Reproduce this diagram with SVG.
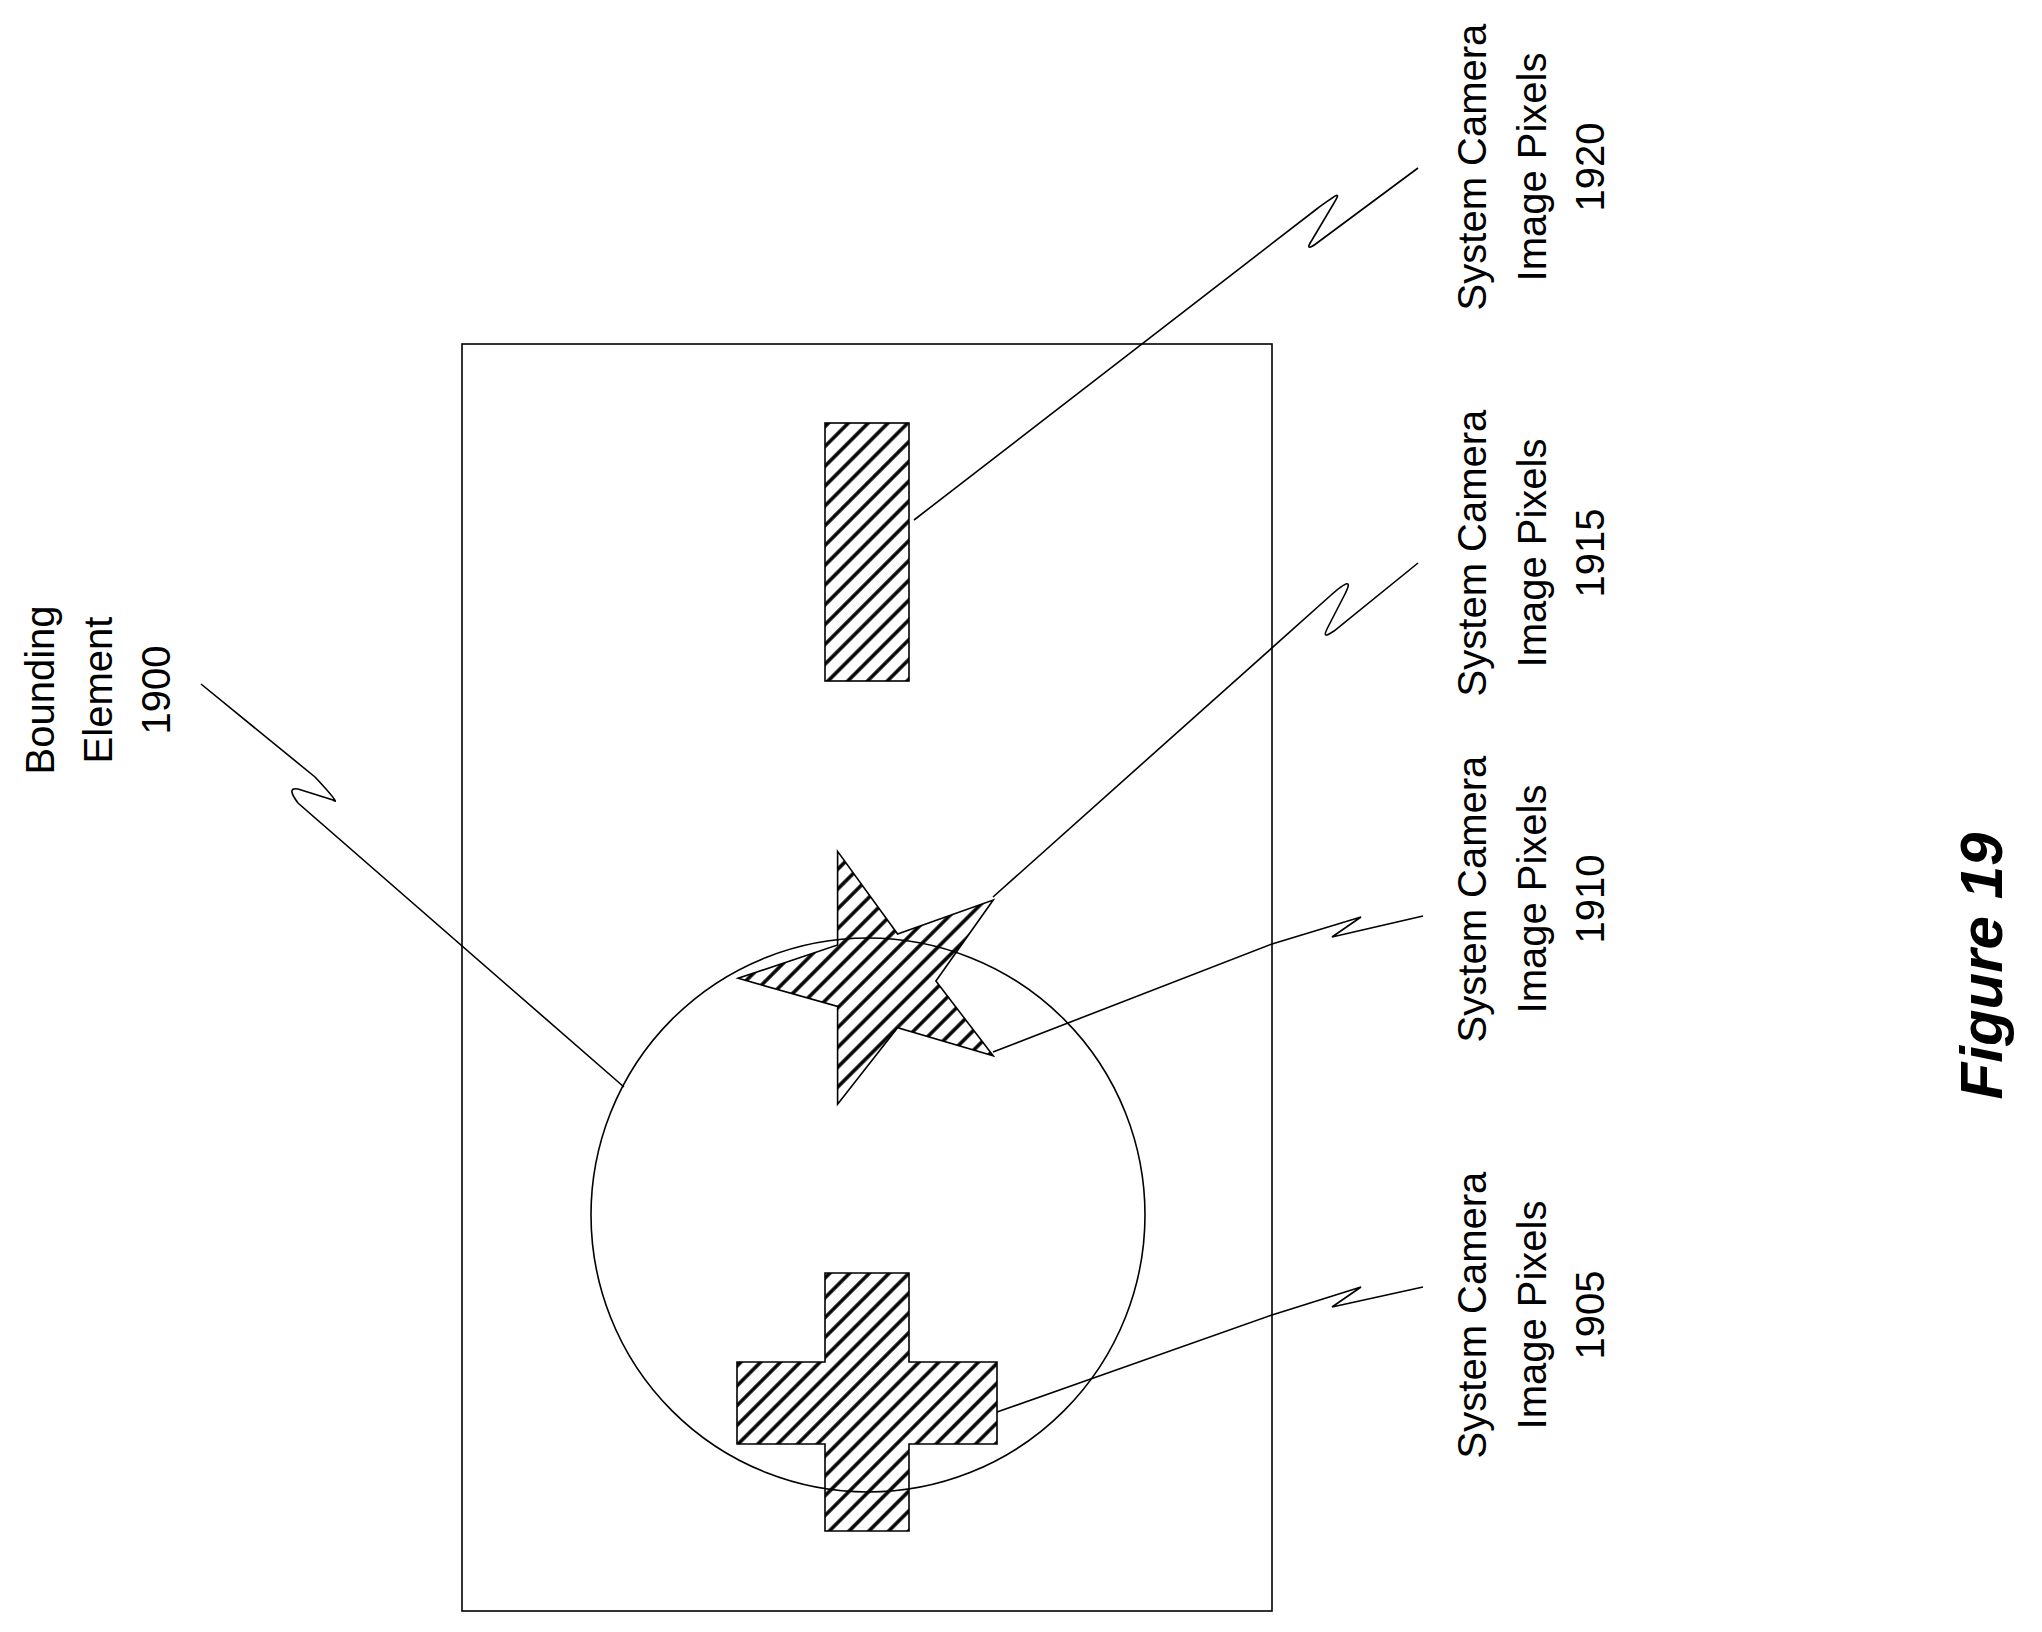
<svg xmlns="http://www.w3.org/2000/svg" width="2042" height="1632" viewBox="0 0 2042 1632">
<style>
.ln{fill:none;stroke:#000;stroke-width:1.6}
.sh{fill:url(#hatch);stroke:#000;stroke-width:1.6}
.lb{font-family:"Liberation Sans",Arial,sans-serif;font-size:40px;fill:#000;text-anchor:middle}
.fg{font-family:"Liberation Sans",Arial,sans-serif;font-size:60px;font-weight:bold;font-style:italic;fill:#000;text-anchor:middle}
</style>
<defs>
<pattern id="hatch" patternUnits="userSpaceOnUse" width="14" height="14" patternTransform="rotate(45)">
<rect width="14" height="14" fill="#fff"/>
<line x1="3" y1="0" x2="3" y2="14" stroke="#000" stroke-width="3.5"/>
</pattern>
</defs>
<rect width="2042" height="1632" fill="#fff"/>
<g id="frame"><rect class="ln" x="462" y="344" width="810" height="1267"/></g>
<g id="pixels1920"><rect class="sh" x="825" y="423" width="84" height="258"/></g>
<g id="pixels1910"><path class="sh" d="M837.6,851.4 L897.6,934 L993.2,900 L935.9,981 L993.2,1055.8 L897.6,1027.7 L837.6,1104.3 L837.6,1006.4 L738.1,978.3 L837.6,945 Z"/></g>
<g id="pixels1905"><path class="sh" d="M825,1273 H909 V1362 H997 V1444 H909 V1531 H825 V1444 H737 V1362 H825 Z"/></g>
<g id="bounding1900"><circle class="ln" cx="868" cy="1215" r="277"/></g>
<g id="connectors">
<path class="ln" d="M914,520 L1318,208 C1336,195 1342,190 1334,203 L1312,240 C1306,249 1309,249 1317,243 L1418,168"/>
<path class="ln" d="M993,897 L1330,596 C1348,580 1352,580 1345,594 L1328,627 C1323,637 1325,637 1334,631 L1418,563"/>
<path class="ln" d="M993,1052 L1272,944 L1361,917 L1332,937 L1423,916"/>
<path class="ln" d="M997,1412 L1272,1315 L1361,1287 L1332,1307 L1423,1287"/>
<path class="ln" d="M201,684 L315,777 C330,793 340,805 333,800 L298,789 C288,787 292,795 298,803 L624,1087"/>
</g>
<g id="labels">
<text class="lb" transform="translate(54,690) rotate(-90)">Bounding</text>
<text class="lb" transform="translate(112,690) rotate(-90)">Element</text>
<text class="lb" transform="translate(170,690) rotate(-90)">1900</text>
<text class="lb" transform="translate(1486,1315) rotate(-90)">System Camera</text>
<text class="lb" transform="translate(1546,1315) rotate(-90)">Image Pixels</text>
<text class="lb" transform="translate(1604,1315) rotate(-90)">1905</text>
<text class="lb" transform="translate(1486,899) rotate(-90)">System Camera</text>
<text class="lb" transform="translate(1546,899) rotate(-90)">Image Pixels</text>
<text class="lb" transform="translate(1604,899) rotate(-90)">1910</text>
<text class="lb" transform="translate(1486,553) rotate(-90)">System Camera</text>
<text class="lb" transform="translate(1546,553) rotate(-90)">Image Pixels</text>
<text class="lb" transform="translate(1604,553) rotate(-90)">1915</text>
<text class="lb" transform="translate(1486,167) rotate(-90)">System Camera</text>
<text class="lb" transform="translate(1546,167) rotate(-90)">Image Pixels</text>
<text class="lb" transform="translate(1604,167) rotate(-90)">1920</text>
<text class="fg" transform="translate(2002,966) rotate(-90)">Figure 19</text>
</g>
</svg>
